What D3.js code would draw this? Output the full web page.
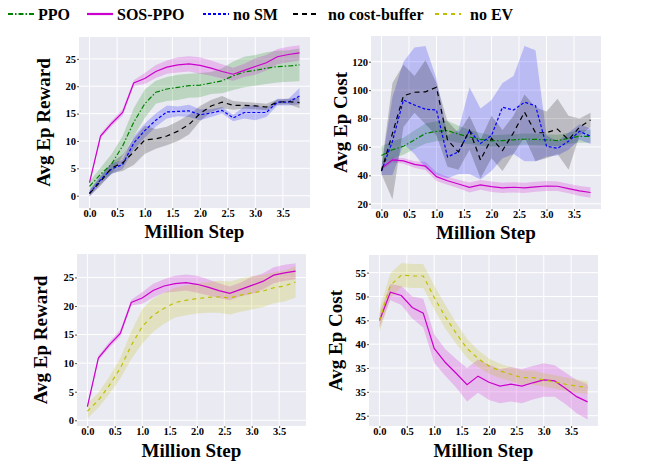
<!DOCTYPE html>
<html>
<head>
<meta charset="utf-8">
<script src="https://cdn.jsdelivr.net/npm/d3@7"></script>
<style>
  body { margin: 0; background: #fff; }
  text { font-family: "Liberation Serif", "Times New Roman", serif; font-weight: bold; }
</style>
</head>
<body>
<div id="chart"></div>
<script>
// x values (million steps)
var steps = [0, 0.2, 0.4, 0.6, 0.8, 1.0, 1.2, 1.4, 1.6, 1.8, 2.0, 2.2, 2.4, 2.6, 2.8, 3.0, 3.2, 3.4, 3.6, 3.8]
var xTicks = [0, 0.5, 1.0, 1.5, 2.0, 2.5, 3.0, 3.5]
var rewardTicks = [0, 5, 10, 15, 20, 25]
var costTicksTop = [20, 40, 60, 80, 100, 120]
var costTicksBottom = [25, 30, 35, 40, 45, 50, 55]
var costTickLabelsBottom = ['25', '35', '35', '40', '45', '50', '55']

// reward curves (mean and half-width of band)
var rewardPPO    = [1.7, 3.9, 5.8, 9.1, 13.4, 16.8, 18.9, 19.5, 19.8, 20.1, 20.2, 20.6, 21.0, 21.9, 22.6, 22.9, 23.3, 23.6, 23.7, 23.9]
var rewardPPOsd  = [0.9, 1.2, 1.8, 1.8, 2.6, 2.6, 2.1, 2.2, 2.3, 2.2, 2.2, 2.0, 2.3, 2.6, 2.8, 2.8, 2.9, 2.9, 2.9, 3.0]
var rewardSOS    = [2.4, 10.9, 13.2, 15.2, 20.6, 21.4, 22.7, 23.5, 23.9, 24.1, 23.8, 23.3, 22.7, 22.2, 22.9, 23.6, 24.3, 25.4, 25.8, 26.1]
var rewardSOSsd  = [0.3, 0.4, 0.5, 0.6, 0.5, 1.0, 1.2, 1.2, 1.4, 1.4, 1.5, 1.4, 1.3, 1.2, 1.2, 1.5, 1.4, 1.4, 1.4, 1.4]
var rewardNoSM   = [0.4, 2.9, 4.9, 5.7, 9.6, 11.9, 13.8, 15.3, 15.4, 15.5, 14.8, 15.1, 15.6, 14.2, 15.2, 15.2, 15.2, 17.1, 17.1, 18.2]
var rewardNoSMsd = [0.6, 0.8, 1.0, 0.8, 1.2, 1.3, 1.2, 1.2, 0.9, 1.1, 1.0, 0.7, 0.6, 0.6, 1.1, 1.4, 0.8, 0.6, 0.6, 1.5]
var rewardNoCB   = [0.4, 2.6, 5.1, 6.0, 8.0, 10.2, 10.4, 10.9, 11.8, 13.0, 15.0, 16.4, 17.1, 16.5, 16.5, 16.4, 16.2, 17.1, 17.2, 17.0]
var rewardNoCBsd = [0.5, 0.8, 1.0, 1.5, 2.4, 2.6, 1.8, 1.7, 1.8, 1.8, 1.4, 1.1, 1.1, 0.8, 0.6, 0.6, 0.6, 0.5, 0.5, 1.0]
var rewardNoEV   = [1.6, 3.5, 6.1, 9.1, 13.1, 16.4, 18.4, 19.6, 20.6, 21.0, 21.3, 21.5, 21.6, 21.4, 21.9, 22.3, 22.6, 23.2, 23.5, 24.2]
var rewardNoEVsd = [1.3, 1.3, 1.5, 1.8, 2.4, 3.0, 2.9, 2.7, 2.6, 2.6, 2.6, 2.7, 2.8, 2.9, 2.9, 2.9, 2.8, 2.7, 2.7, 2.7]

// cost curves
var costPPO     = [54, 58, 60.5, 65, 69.5, 71, 71.5, 69, 67, 65.3, 64.3, 64.5, 65, 65.5, 65.3, 65, 64.5, 66, 67.5, 67.5]
var costPPOsd   = [6.5, 6, 6, 6.5, 7, 7, 7, 6, 5, 4.5, 4, 4, 4, 4, 4, 4, 4, 4, 4.5, 4.5]
var costSOS     = [44.9, 50.9, 50.2, 47.7, 46.5, 39.1, 36.2, 33.9, 31.5, 33.3, 32.0, 31.2, 31.6, 31.2, 31.9, 32.5, 32.3, 30.7, 29.0, 27.9]
var costSOSsd   = [1.5, 1.7, 2.0, 2.3, 3.0, 3.0, 2.8, 3.0, 3.5, 3.5, 3.7, 3.6, 3.6, 3.6, 3.5, 3.5, 3.3, 3.3, 3.5, 3.7]
var costNoSM    = [43, 64, 93, 89.5, 86.5, 86, 53, 56.5, 71.5, 62.5, 68, 88, 86, 91.5, 89, 60.5, 59, 64, 71, 67.5]
var costNoSMlo  = [40, 40, 62, 55, 45, 40, 38, 41, 41, 37, 43, 52, 55, 50, 50, 53, 54, 58, 65, 62]
var costNoSMhi  = [46, 95, 120, 130, 131, 108, 68, 72, 102, 87, 93, 105, 110, 131, 128, 68, 64, 70, 76, 73]
var costNoCB    = [43, 69.5, 96, 98.5, 98.8, 102, 65, 56.4, 71.7, 50.8, 66, 57.5, 70, 84.5, 70, 70, 72.5, 65, 74, 79]
var costNoCBlo  = [41, 23, 74, 84, 76, 68, 46, 44, 58, 38, 52, 43, 55, 67, 50, 52, 55, 44, 68, 74]
var costNoCBhi  = [46, 105, 118, 110, 121, 105, 78, 70, 82, 65, 82, 72, 82, 97, 88, 85, 94, 82, 80, 84]
var costNoEV    = [44.9, 52.3, 54.5, 54.3, 54.3, 49.8, 45.8, 42.3, 39.1, 37.0, 35.4, 34.4, 33.7, 33.0, 33.0, 32.5, 32.1, 31.6, 31.2, 30.9]
var costNoEVsd  = [2.5, 2.5, 2.5, 2.5, 2.5, 2.5, 2.5, 2.2, 2.0, 1.8, 1.6, 1.5, 1.5, 1.5, 1.5, 1.4, 1.4, 1.4, 1.4, 1.3]

var legendNames = ['PPO', 'SOS-PPO', 'no SM', 'no cost-buffer', 'no EV']

var styles = {
	'PPO':            {color: '#008000', dash: '5,2,1.5,2'},
	'SOS-PPO':        {color: '#cc00cc', dash: null},
	'no SM':          {color: '#0000ff', dash: '3,2'},
	'no cost-buffer': {color: '#000000', dash: '5,4'},
	'no EV':          {color: '#bfbf00', dash: '4,4'}
}

var serif = '"Liberation Serif", "Times New Roman", serif'

function sdBand(mean, sd){
	return {lo: mean.map(function(m, i){ return m - sd[i] }),
	        hi: mean.map(function(m, i){ return m + sd[i] })}
}

function series(name, mean, band){
	return {name: name, mean: mean, lo: band.lo, hi: band.hi}
}

var panels = [
	{left: 79, right: 310, top: 37, bottom: 208, y: [-2.25, 29.0], ticks: rewardTicks, labels: null,
	 ylabel: 'Avg Ep Reward', ylx: 50, xlBase: 238,
	 series: [series('PPO', rewardPPO, sdBand(rewardPPO, rewardPPOsd)),
	          series('SOS-PPO', rewardSOS, sdBand(rewardSOS, rewardSOSsd)),
	          series('no SM', rewardNoSM, sdBand(rewardNoSM, rewardNoSMsd)),
	          series('no cost-buffer', rewardNoCB, sdBand(rewardNoCB, rewardNoCBsd))]},
	{left: 371, right: 601, top: 36, bottom: 209, y: [16.3, 138.1], ticks: costTicksTop, labels: null,
	 ylabel: 'Avg Ep Cost', ylx: 347, xlBase: 239,
	 series: [series('PPO', costPPO, sdBand(costPPO, costPPOsd)),
	          series('SOS-PPO', costSOS, sdBand(costSOS, costSOSsd)),
	          series('no SM', costNoSM, {lo: costNoSMlo, hi: costNoSMhi}),
	          series('no cost-buffer', costNoCB, {lo: costNoCBlo, hi: costNoCBhi})]},
	{left: 77, right: 306, top: 254, bottom: 426, y: [-1.0, 29.1], ticks: rewardTicks, labels: null,
	 ylabel: 'Avg Ep Reward', ylx: 47, xlBase: 457,
	 series: [series('SOS-PPO', rewardSOS, sdBand(rewardSOS, rewardSOSsd)),
	          series('no EV', rewardNoEV, sdBand(rewardNoEV, rewardNoEVsd))]},
	{left: 369, right: 598, top: 255, bottom: 426, y: [22.84, 58.7], ticks: costTicksBottom, labels: costTickLabelsBottom,
	 ylabel: 'Avg Ep Cost', ylx: 342, xlBase: 457,
	 series: [series('SOS-PPO', costSOS, sdBand(costSOS, costSOSsd)),
	          series('no EV', costNoEV, sdBand(costNoEV, costNoEVsd))]}
]

var svg = d3.select('#chart')
			.append('svg')
			.attr('width', 649)
			.attr('height', 464)

panels.forEach(function(p){
	var x = d3.scaleLinear().domain([-0.19, 3.99]).range([p.left, p.right])
	var y = d3.scaleLinear().domain(p.y).range([p.bottom, p.top])
	var g = svg.append('g')

	//background
	g.append('rect')
	 .attr('x', p.left).attr('y', p.top)
	 .attr('width', p.right - p.left).attr('height', p.bottom - p.top)
	 .attr('fill', '#eaeaf2')

	//grid
	g.selectAll('.gx').data(xTicks).enter().append('line')
	 .attr('x1', function(d){ return x(d) }).attr('x2', function(d){ return x(d) })
	 .attr('y1', p.top).attr('y2', p.bottom)
	 .attr('stroke', '#fff').attr('stroke-width', 1)
	g.selectAll('.gy').data(p.ticks).enter().append('line')
	 .attr('x1', p.left).attr('x2', p.right)
	 .attr('y1', function(d){ return y(d) }).attr('y2', function(d){ return y(d) })
	 .attr('stroke', '#fff').attr('stroke-width', 1)

	//axes
	var xa = g.append('g')
			  .attr('transform', 'translate(0,' + p.bottom + ')')
			  .call(d3.axisBottom(x).tickValues(xTicks).tickSize(2).tickPadding(0).tickFormat(d3.format('.1f')))
	var ya = g.append('g')
			  .attr('transform', 'translate(' + p.left + ',0)')
			  .call(d3.axisLeft(y).tickValues(p.ticks).tickSize(2).tickPadding(1)
			  .tickFormat(function(d, i){ return p.labels ? p.labels[i] : d }))
	;[xa, ya].forEach(function(a){
		a.attr('font-family', serif)
		a.select('.domain').remove()
		a.selectAll('.tick line').attr('stroke', '#555')
		a.selectAll('.tick text').attr('font-size', '10.5px').attr('fill', '#000')
		 .attr('font-family', serif).attr('font-weight', 'bold')
	})

	//bands
	var area = d3.area()
				 .x(function(d){ return x(d[0]) })
				 .y0(function(d){ return y(d[1]) })
				 .y1(function(d){ return y(d[2]) })
	p.series.forEach(function(s){
		g.append('path')
		 .datum(steps.map(function(t, i){ return [t, s.lo[i], s.hi[i]] }))
		 .attr('d', area)
		 .attr('fill', styles[s.name].color)
		 .attr('fill-opacity', 0.2)
	})

	//lines
	var line = d3.line()
				 .x(function(d){ return x(d[0]) })
				 .y(function(d){ return y(d[1]) })
	p.series.forEach(function(s){
		g.append('path')
		 .datum(steps.map(function(t, i){ return [t, s.mean[i]] }))
		 .attr('d', line)
		 .attr('fill', 'none')
		 .attr('stroke', styles[s.name].color)
		 .attr('stroke-width', 1.2)
		 .attr('stroke-dasharray', styles[s.name].dash)
	})

	//labels
	g.append('text')
	 .attr('transform', 'translate(' + p.ylx + ',' + (p.top + p.bottom) / 2 + ') rotate(-90)')
	 .attr('text-anchor', 'middle')
	 .attr('font-family', serif)
	 .attr('font-size', '19px')
	 .text(p.ylabel)
	g.append('text')
	 .attr('x', (p.left + p.right) / 2)
	 .attr('y', p.xlBase)
	 .attr('text-anchor', 'middle')
	 .attr('font-family', serif)
	 .attr('font-size', '19px')
	 .text('Million Step')
})

//legend
var legendX = [8, 87, 203, 293, 435]
var legendTextX = [38, 117, 233, 328, 470]
legendNames.forEach(function(n, i){
	svg.append('line')
	   .attr('x1', legendX[i]).attr('x2', legendX[i] + 26)
	   .attr('y1', 14).attr('y2', 14)
	   .attr('stroke', styles[n].color)
	   .attr('stroke-width', 2.2)
	   .attr('stroke-dasharray', styles[n].dash)
	svg.append('text')
	   .attr('x', legendTextX[i])
	   .attr('y', 20)
	   .attr('font-family', serif)
	   .attr('font-size', '16px')
	   .text(n)
})
</script>
</body>
</html>
